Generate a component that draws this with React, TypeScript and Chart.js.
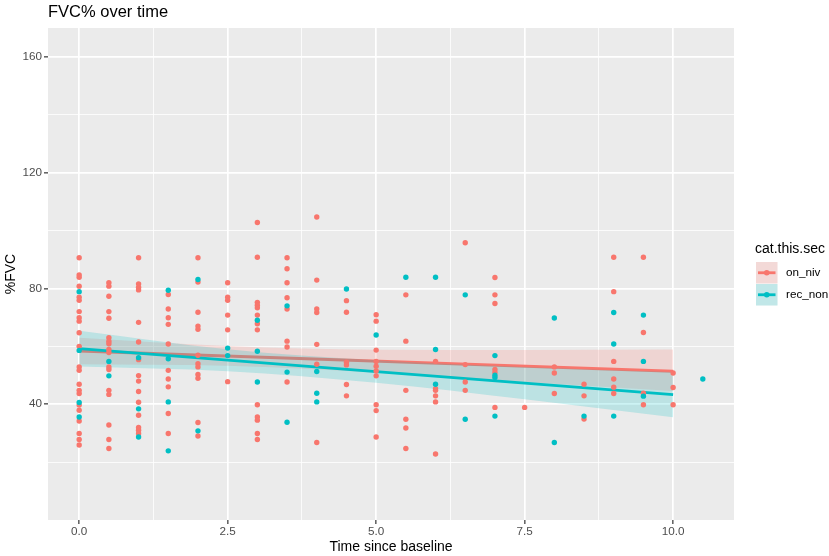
import React, { useEffect, useRef } from "react";
import { Chart, registerables } from "chart.js";

Chart.register(...registerables);

// ---- data ----
const timePoints = [0, 0.5, 1, 1.5, 2, 2.5, 3, 3.5, 4, 4.5, 5, 5.5, 6, 6.5, 7, 7.5, 8, 8.5, 9, 9.5, 10, 10.5];

const onNivFvc: number[][] = [
  [90.6, 84.7, 83.9, 80.8, 77.0, 75.9, 72.0, 69.9, 68.7, 64.7, 60.0, 52.9, 51.7, 46.9, 44.8, 43.7, 39.7, 37.9, 34.2, 29.9, 27.8, 25.9],
  [82.0, 80.8, 77.3, 72.0, 69.7, 63.0, 61.8, 60.9, 58.9, 57.9, 52.9, 52.0, 44.8, 43.4, 32.8, 27.8, 24.7],
  [90.6, 81.6, 80.4, 79.5, 68.3, 61.5, 55.4, 49.9, 48.0, 44.4, 40.7, 36.2, 32.0, 31.0, 29.9],
  [77.9, 72.9, 69.9, 67.6, 60.8, 51.7, 48.7, 46.0, 36.8, 29.9],
  [90.6, 82.2, 71.8, 67.0, 65.9, 56.9, 54.0, 52.9, 50.3, 49.0, 33.7, 29.0],
  [82.0, 77.0, 75.9, 70.8, 65.7, 47.8],
  [102.8, 90.8, 75.2, 74.2, 73.3, 70.8, 67.8, 65.7, 39.8, 35.6, 34.5, 29.9, 27.8],
  [90.6, 86.8, 82.0, 76.8, 72.9, 61.8, 59.8, 47.7],
  [104.7, 82.9, 72.9, 71.7, 60.7, 53.8, 26.8],
  [75.8, 71.8, 54.5, 53.6, 46.8, 42.9],
  [70.9, 68.7, 58.7, 54.8, 53.1, 51.5, 49.8, 39.8, 37.8, 28.7],
  [77.8, 61.8, 44.8, 34.8, 31.8, 24.7],
  [54.8, 45.4, 44.8, 42.9, 40.8, 22.8],
  [95.8, 53.7, 47.7, 44.8],
  [83.8, 77.8, 74.8, 52.0, 51.0, 38.9],
  [38.9],
  [52.9, 50.8, 43.7],
  [46.9, 42.9, 34.9],
  [90.8, 78.9, 54.8, 48.7, 45.9, 43.7],
  [90.8, 64.8, 43.8, 39.8],
  [50.8, 45.8, 39.8],
  [],
];

const recNonFvc: number[][] = [
  [78.9, 58.6, 40.6, 35.6],
  [54.8, 49.8],
  [56.1, 38.4, 28.7],
  [79.4, 55.7, 40.8, 23.9],
  [83.1, 30.8],
  [59.4, 56.8],
  [69.0, 58.3, 47.7],
  [74.0, 51.1, 33.8],
  [51.3, 43.8, 40.8],
  [79.8],
  [63.9],
  [83.9],
  [83.9, 58.9, 46.9],
  [77.8, 34.8],
  [56.8, 50.0, 49.2, 35.9],
  [],
  [69.8, 26.8],
  [35.9],
  [71.7, 60.8, 35.9],
  [70.8, 54.8, 42.8],
  [],
  [48.7],
];

const fitX = [0, 10];
const onNivFit = [58.4, 51.4];
const recNonFit = [59.2, 43.3];

const bandX = [0, 2.5, 5, 7.5, 10];
const onNivLower = [53.8, 53.3, 51.0, 47.7, 44.6];
const onNivUpper = [63.0, 60.1, 58.8, 58.7, 58.9];
const recNonLower = [53.0, 51.4, 47.4, 41.7, 35.5];
const recNonUpper = [65.4, 59.0, 55.2, 52.9, 51.1];

const xTickValues = [0, 1.25, 2.5, 3.75, 5, 6.25, 7.5, 8.75, 10];
const xMajorTicks = [0, 2.5, 5, 7.5, 10];
const yTickValues = [20, 40, 60, 80, 100, 120, 140, 160];
const yMajorTicks = [40, 80, 120, 160];

const groupNames = ["on_niv", "rec_non"];
const legendTitle = "cat.this.sec";
const chartTitle = "FVC% over time";
const xTitle = "Time since baseline";
const yTitle = "%FVC";

const RED = "#F8766D";
const TEAL = "#00BFC4";
const RED_FILL = "rgba(248,118,109,0.2)";
const TEAL_FILL = "rgba(0,191,196,0.2)";
const FONT = "'Liberation Sans', Arial, Helvetica, sans-serif";

function toPoints(values: number[][]) {
  const pts: { x: number; y: number }[] = [];
  values.forEach((list, i) => list.forEach((v) => pts.push({ x: timePoints[i], y: v })));
  return pts;
}
function zipXY(xs: number[], ys: number[]) {
  return xs.map((x, i) => ({ x, y: ys[i] }));
}

export default function App() {
  const canvasRef = useRef<HTMLCanvasElement | null>(null);

  useEffect(() => {
    document.body.style.margin = "0";
    const canvas = canvasRef.current;
    if (!canvas) return;

    const decor = {
      id: "ggDecor",
      beforeDraw(chart: any) {
        const { ctx, chartArea } = chart;
        ctx.save();
        ctx.fillStyle = "#FFFFFF";
        ctx.fillRect(0, 0, chart.width, chart.height);
        ctx.fillStyle = "#EBEBEB";
        ctx.fillRect(chartArea.left, chartArea.top, chartArea.right - chartArea.left, chartArea.bottom - chartArea.top);
        ctx.restore();
      },
      afterDraw(chart: any) {
        const { ctx, chartArea } = chart;
        ctx.save();
        ctx.fillStyle = "#000000";
        ctx.textBaseline = "middle";
        // title
        ctx.font = `16.5px ${FONT}`;
        ctx.textAlign = "left";
        ctx.fillText(chartTitle, 48, 12);
        // x title
        ctx.font = `14px ${FONT}`;
        ctx.textAlign = "center";
        ctx.fillText(xTitle, (chartArea.left + chartArea.right) / 2, 547);
        // y title
        ctx.save();
        ctx.translate(11, (chartArea.top + chartArea.bottom) / 2);
        ctx.rotate(-Math.PI / 2);
        ctx.fillText(yTitle, 0, 0);
        ctx.restore();
        // legend
        ctx.textAlign = "left";
        ctx.font = `14px ${FONT}`;
        ctx.fillText(legendTitle, 755, 249);
        const keyColors = [RED, TEAL];
        const keyFills = [RED_FILL, TEAL_FILL];
        const keySize = 21.5;
        groupNames.forEach((name, i) => {
          const kx = 756;
          const ky = 262 + i * (keySize + 0.5);
          ctx.fillStyle = "#F2F2F2";
          ctx.fillRect(kx, ky, keySize, keySize);
          ctx.fillStyle = keyFills[i];
          ctx.fillRect(kx, ky, keySize, keySize);
          ctx.strokeStyle = keyColors[i];
          ctx.lineWidth = 2.8;
          ctx.beginPath();
          ctx.moveTo(kx + 2, ky + keySize / 2);
          ctx.lineTo(kx + keySize - 2, ky + keySize / 2);
          ctx.stroke();
          ctx.fillStyle = keyColors[i];
          ctx.beginPath();
          ctx.arc(kx + keySize / 2, ky + keySize / 2, 2.8, 0, Math.PI * 2);
          ctx.fill();
          ctx.fillStyle = "#000000";
          ctx.font = `11.7px ${FONT}`;
          ctx.fillText(name, 786, ky + keySize / 2);
        });
        ctx.restore();
      },
    };

    const chart = new Chart(canvas, {
      type: "line",
      data: {
        datasets: [
          {
            label: "onNivLower",
            data: zipXY(bandX, onNivLower),
            borderWidth: 0,
            borderColor: "rgba(0,0,0,0)",
            pointRadius: 0,
            fill: false,
            cubicInterpolationMode: "monotone",
            order: 8,
          },
          {
            label: "onNivUpper",
            data: zipXY(bandX, onNivUpper),
            borderWidth: 0,
            borderColor: "rgba(0,0,0,0)",
            backgroundColor: RED_FILL,
            pointRadius: 0,
            fill: "-1",
            cubicInterpolationMode: "monotone",
            order: 7,
          },
          {
            label: "onNivFit",
            data: zipXY(fitX, onNivFit),
            borderColor: RED,
            borderWidth: 2.8,
            pointRadius: 0,
            fill: false,
            order: 6,
          },
          {
            label: "recNonLower",
            data: zipXY(bandX, recNonLower),
            borderWidth: 0,
            borderColor: "rgba(0,0,0,0)",
            pointRadius: 0,
            fill: false,
            cubicInterpolationMode: "monotone",
            order: 5.5,
          },
          {
            label: "recNonUpper",
            data: zipXY(bandX, recNonUpper),
            borderWidth: 0,
            borderColor: "rgba(0,0,0,0)",
            backgroundColor: TEAL_FILL,
            pointRadius: 0,
            fill: "-1",
            cubicInterpolationMode: "monotone",
            order: 5,
          },
          {
            label: "recNonFit",
            data: zipXY(fitX, recNonFit),
            borderColor: TEAL,
            borderWidth: 2.8,
            pointRadius: 0,
            fill: false,
            order: 4,
          },
          {
            label: groupNames[0],
            data: toPoints(onNivFvc),
            showLine: false,
            pointRadius: 2.7,
            pointBorderWidth: 0,
            pointBackgroundColor: RED,
            backgroundColor: RED,
            borderColor: RED,
            order: 2,
          },
          {
            label: groupNames[1],
            data: toPoints(recNonFvc),
            showLine: false,
            pointRadius: 2.7,
            pointBorderWidth: 0,
            pointBackgroundColor: TEAL,
            backgroundColor: TEAL,
            borderColor: TEAL,
            order: 1,
          },
        ],
      },
      options: {
        responsive: false,
        animation: false,
        events: [],
        layout: { padding: { left: 0, top: 28, right: 95, bottom: 0 } },
        plugins: {
          legend: { display: false },
          tooltip: { enabled: false },
          title: { display: false },
        },
        scales: {
          x: {
            type: "linear",
            min: -0.525,
            max: 11.025,
            afterBuildTicks: (scale: any) => {
              scale.ticks = xTickValues.map((v) => ({ value: v }));
            },
            afterFit: (scale: any) => {
              scale.height = 36;
            },
            border: { display: false },
            grid: {
              color: "#FFFFFF",
              lineWidth: (ctx: any) => (xMajorTicks.includes(ctx.tick?.value) ? 1.7 : 0.8),
              tickColor: (ctx: any) => (xMajorTicks.includes(ctx.tick?.value) ? "#333333" : "rgba(0,0,0,0)"),
              tickWidth: 1.2,
              tickLength: 4,
            },
            ticks: {
              autoSkip: false,
              maxRotation: 0,
              padding: 1,
              color: "#4D4D4D",
              font: { size: 11.7, family: FONT },
              callback: (v: any) => (xMajorTicks.includes(Number(v)) ? Number(v).toFixed(1) : ""),
            },
          },
          y: {
            type: "linear",
            min: 0,
            max: 170,
            afterBuildTicks: (scale: any) => {
              scale.ticks = yTickValues.map((v) => ({ value: v }));
            },
            afterFit: (scale: any) => {
              scale.width = 48;
            },
            border: { display: false },
            grid: {
              color: "#FFFFFF",
              lineWidth: (ctx: any) => (yMajorTicks.includes(ctx.tick?.value) ? 1.7 : 0.8),
              tickColor: (ctx: any) => (yMajorTicks.includes(ctx.tick?.value) ? "#333333" : "rgba(0,0,0,0)"),
              tickWidth: 1.2,
              tickLength: 4,
            },
            ticks: {
              autoSkip: false,
              padding: 2,
              color: "#4D4D4D",
              font: { size: 11.7, family: FONT },
              callback: (v: any) => (yMajorTicks.includes(Number(v)) ? String(v) : ""),
            },
          },
        },
      },
      plugins: [decor],
    } as any);

    return () => chart.destroy();
  }, []);

  return (
    <div style={{ width: 829, height: 556 }}>
      <canvas ref={canvasRef} width={829} height={556} style={{ display: "block" }} />
    </div>
  );
}
